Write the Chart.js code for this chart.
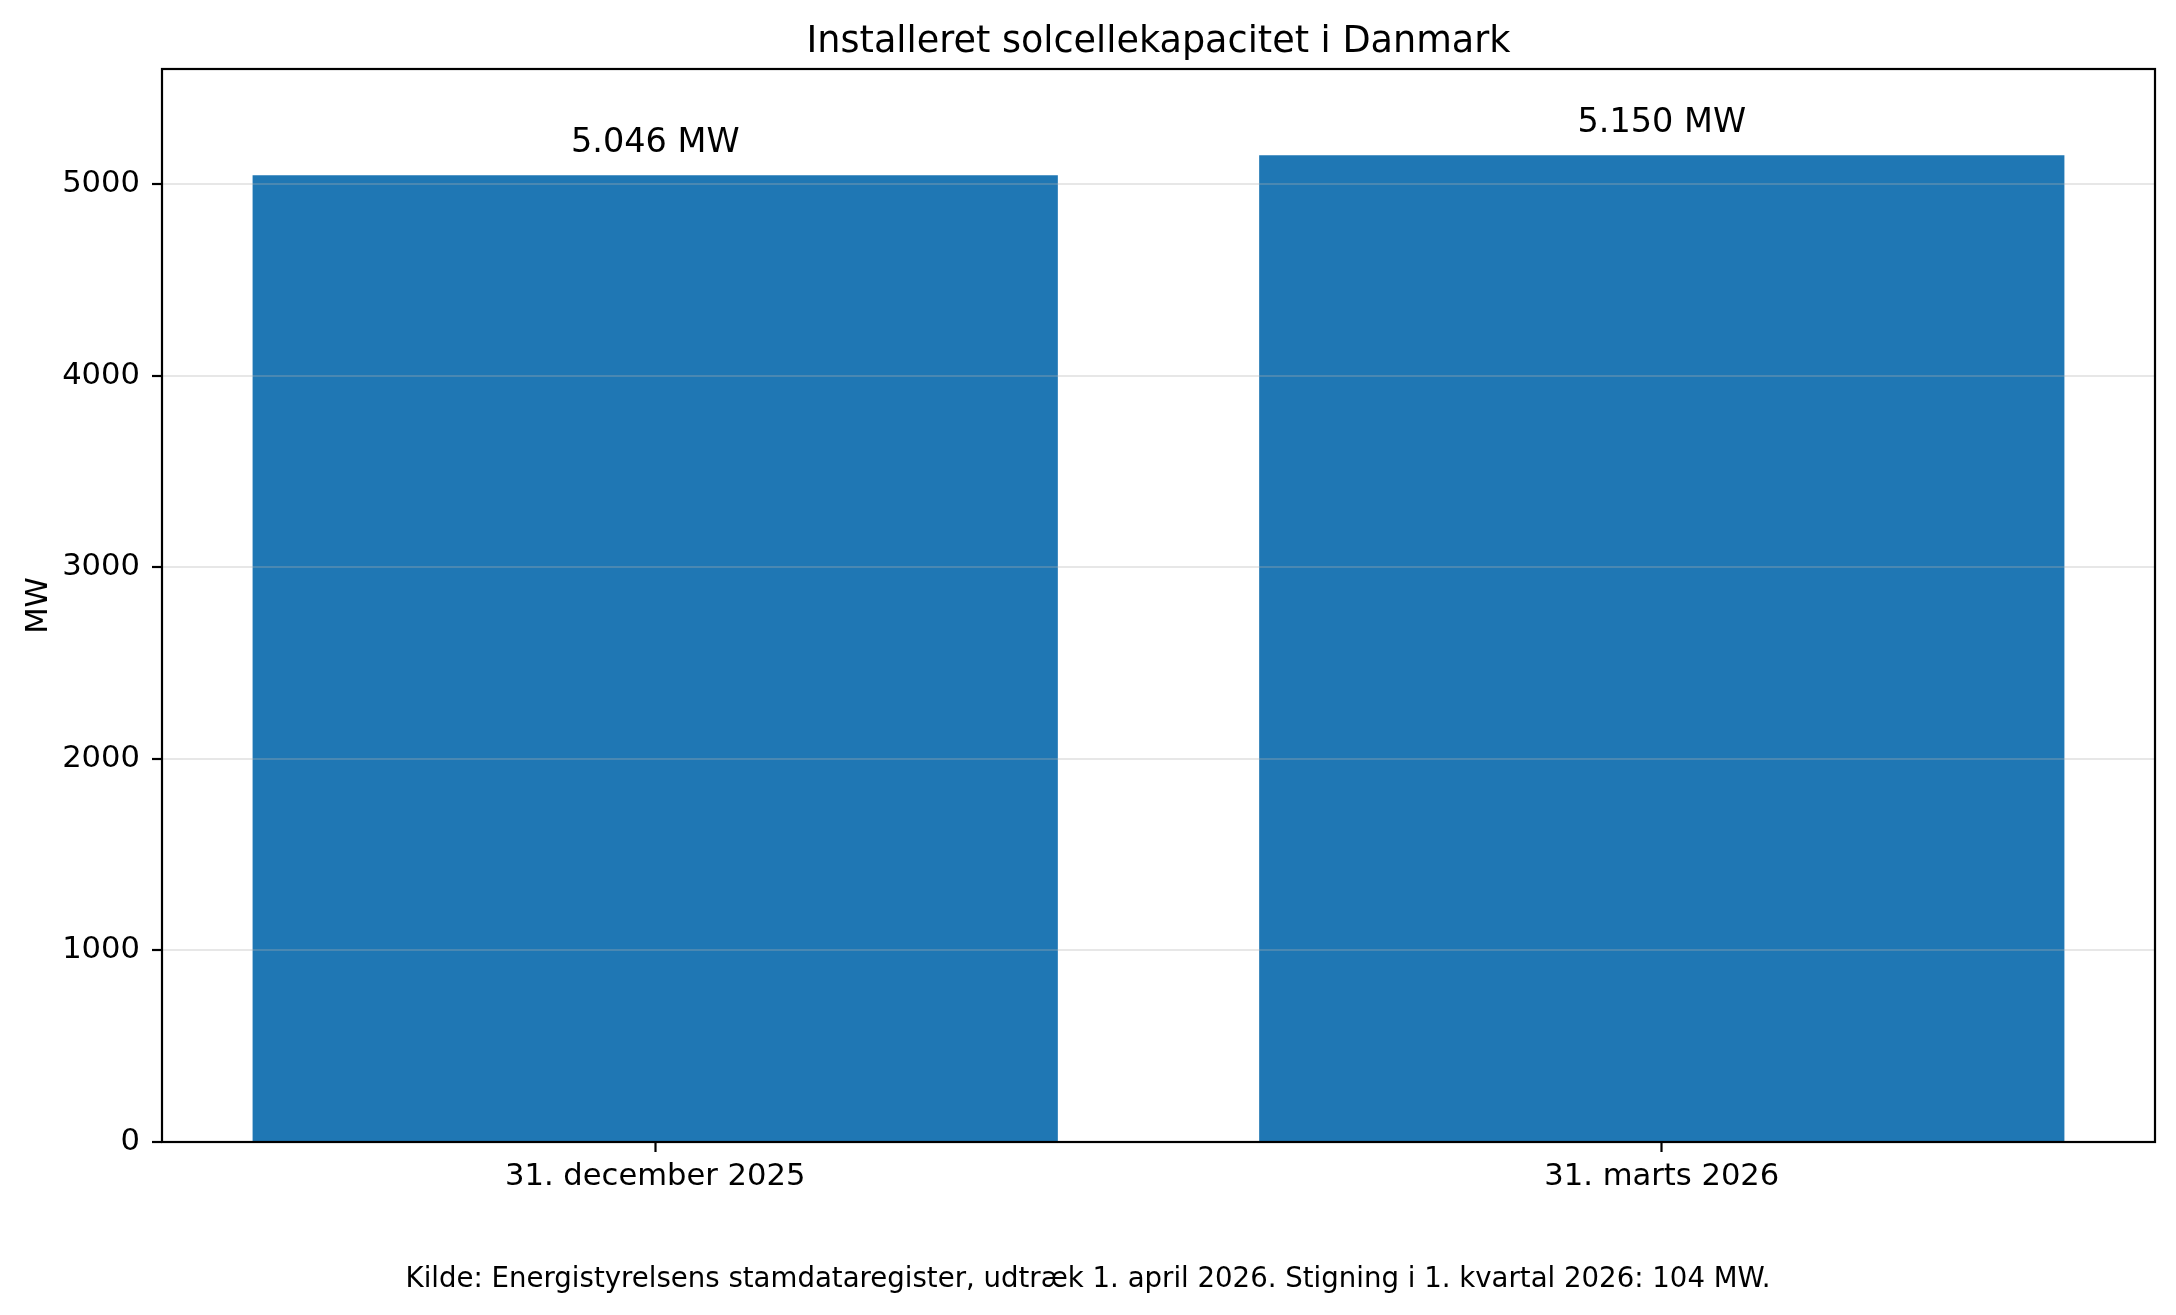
<!DOCTYPE html>
<html>
<head>
<meta charset="utf-8">
<script src="https://cdn.jsdelivr.net/npm/chart.js@4/dist/chart.umd.min.js"></script>
<style>
  html, body { margin: 0; padding: 0; background: #ffffff; }
  #wrap { width: 2176px; height: 1315px; position: relative; }
</style>
</head>
<body>
<div id="wrap"><canvas id="c" width="2176" height="1315"></canvas></div>
<script>
// ---- data ----
const categories = ['31. december 2025', '31. marts 2026'];
const capacityMW = [5046, 5150];
const yTicks = [0, 1000, 2000, 3000, 4000, 5000];
const yMax = 5600;
const titleText = 'Installeret solcellekapacitet i Danmark';
const yAxisLabel = 'MW';
const footerText = 'Kilde: Energistyrelsens stamdataregister, udtræk 1. april 2026. Stigning i 1. kvartal 2026: 104 MW.';

function fmtDK(v) { return String(v).replace(/\B(?=(\d{3})+(?!\d))/g, '.'); }
const barLabels = capacityMW.map(v => fmtDK(v) + ' MW');

const FONT = "'DejaVu Sans', sans-serif";

const barLabelPlugin = {
  id: 'barLabels',
  afterDatasetsDraw(chart) {
    const ctx = chart.ctx;
    const meta = chart.getDatasetMeta(0);
    ctx.save();
    ctx.font = '33.5px ' + FONT;
    ctx.fillStyle = '#000';
    ctx.textAlign = 'center';
    ctx.textBaseline = 'alphabetic';
    meta.data.forEach((bar, i) => {
      ctx.fillText(barLabels[i], bar.x, bar.y - 23);
    });
    ctx.restore();
  }
};

const framePlugin = {
  id: 'frame',
  afterDraw(chart) {
    const a = chart.chartArea;
    const ctx = chart.ctx;
    ctx.save();
    ctx.strokeStyle = '#000';
    ctx.lineWidth = 2.2;
    ctx.strokeRect(a.left, a.top, a.right - a.left, a.bottom - a.top);
    // title centred over the axes
    ctx.fillStyle = '#000';
    ctx.textAlign = 'center';
    ctx.textBaseline = 'alphabetic';
    ctx.font = '36.6px ' + FONT;
    ctx.fillText(titleText, (a.left + a.right) / 2, a.top - 17.3);
    // footer centred on the figure
    ctx.font = '27.6px ' + FONT;
    ctx.fillText(footerText, chart.width / 2, 1287);
    ctx.restore();
  }
};

new Chart(document.getElementById('c'), {
  type: 'bar',
  data: {
    datasets: [{
      data: capacityMW.map((v, i) => ({ x: i, y: v })),
      backgroundColor: '#1f77b4',
      borderWidth: 0,
      categoryPercentage: 1.0,
      barPercentage: 0.8
    }]
  },
  options: {
    responsive: false,
    animation: false,
    devicePixelRatio: 1,
    layout: { padding: { left: 0, right: 21, top: 69, bottom: 0 } },
    plugins: {
      legend: { display: false },
      tooltip: { enabled: false },
      title: { display: false },
      subtitle: { display: false }
    },
    scales: {
      x: {
        type: 'linear',
        min: -0.49,
        max: 1.49,
        offset: false,
        afterFit(scale) { scale.height = 173; },
        afterBuildTicks(scale) {
          scale.ticks = categories.map((c, i) => ({ value: i }));
        },
        ticks: {
          color: '#000',
          font: { family: FONT, size: 30.6 },
          padding: 6.6,
          autoSkip: false,
          maxRotation: 0,
          callback: (v) => categories[v]
        },
        grid: {
          offset: false,
          drawOnChartArea: false,
          drawTicks: true,
          tickLength: 10,
          tickWidth: 2.2,
          tickColor: '#000'
        },
        border: { display: false }
      },
      y: {
        type: 'linear',
        min: 0,
        max: yMax,
        afterFit(scale) { scale.width = 162; },
        afterBuildTicks(scale) {
          scale.ticks = yTicks.map(v => ({ value: v }));
        },
        ticks: {
          color: '#000',
          font: { family: FONT, size: 30.6 },
          padding: 12,
          callback: (v) => String(v)
        },
        grid: {
          z: 1,
          color: (ctx) => (ctx.tick && ctx.tick.value === 0) ? 'rgba(0,0,0,0)' : 'rgba(176,176,176,0.3)',
          lineWidth: 2,
          drawTicks: true,
          tickLength: 10,
          tickWidth: 2.2,
          tickColor: '#000'
        },
        border: { display: false },
        title: {
          display: true,
          text: yAxisLabel,
          color: '#000',
          font: { family: FONT, size: 30.6, lineHeight: 1.2 },
          padding: { top: 20.6, bottom: 0 }
        }
      }
    }
  },
  plugins: [barLabelPlugin, framePlugin]
});
</script>
</body>
</html>
